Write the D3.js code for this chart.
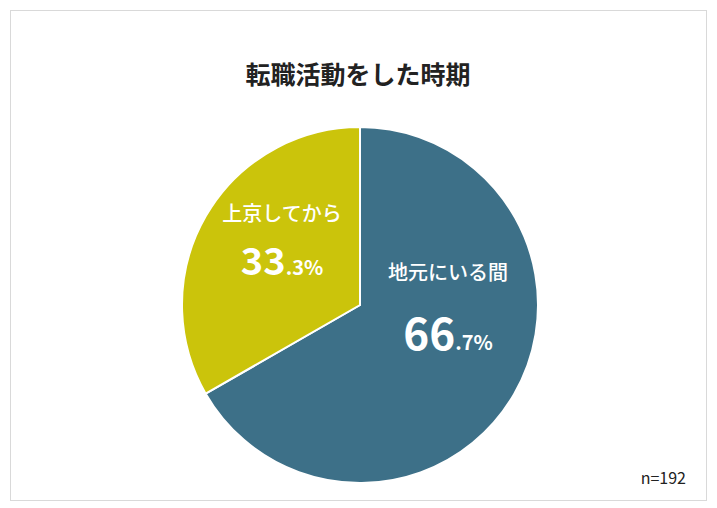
<!DOCTYPE html>
<html><head><meta charset="utf-8">
<script src="https://cdn.jsdelivr.net/npm/d3@7"></script>
<style>body{margin:0;background:#fff;font-family:"Noto Sans CJK JP","Noto Sans",sans-serif;}</style>
</head><body><div id="chart"></div>
<script>
// data
let categories = ["地元にいる間", "上京してから"];
let values = [66.7, 33.3];
let colors = ["#3d7088", "#cbc40b"];

let svg = d3.select("#chart").append("svg")
    .attr("width", 717).attr("height", 508);

svg.append("rect")
    .attr("x", 10.5).attr("y", 10.5).attr("width", 696).attr("height", 490)
    .attr("fill", "#fff").attr("stroke", "#d9d9d9");

svg.append("text")
    .attr("x", 358).attr("y", 84).attr("text-anchor", "middle")
    .attr("font-size", 25).attr("font-weight", "bold").attr("fill", "#222")
    .text("転職活動をした時期");

let cx = 360, cy = 305, r = 178;
let pie = d3.pie().sort(null)(values);
let arc = d3.arc().innerRadius(0).outerRadius(r);

let g = svg.append("g").attr("transform", `translate(${cx}, ${cy})`);
g.selectAll("path").data(pie).join("path")
    .attr("d", arc)
    .attr("fill", (d, i) => colors[i])
    .attr("stroke", "#fff").attr("stroke-width", 2);

// label positions (offsets from center)
let labelPos = [[88, -25, 45], [-78, -84, -30]];
let bigSize = [44, 38];
pie.forEach((d, i) => {
    let [lx, ly, ny] = labelPos[i];
    g.append("text").attr("x", lx).attr("y", ly).attr("text-anchor", "middle")
        .attr("font-size", 20).attr("fill", "#fff").attr("font-weight", 500)
        .text(categories[i]);
    let parts = values[i].toFixed(1).split(".");
    let t = g.append("text").attr("x", lx).attr("y", ny).attr("text-anchor", "middle")
        .attr("fill", "#fff").attr("font-weight", "bold");
    t.append("tspan").attr("font-size", bigSize[i]).text(parts[0]);
    t.append("tspan").attr("font-size", 20).text("." + parts[1] + "%");
});

svg.append("text")
    .attr("x", 686).attr("y", 484).attr("text-anchor", "end")
    .attr("font-size", 16).attr("fill", "#222").text("n=192");
</script>
</body></html>
